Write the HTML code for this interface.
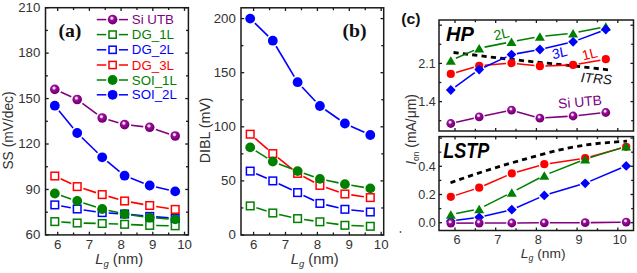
<!DOCTYPE html>
<html><head><meta charset="utf-8"><style>html,body{margin:0;padding:0;background:#fff;overflow:hidden}svg{display:block}</style></head>
<body><svg width="637" height="273" viewBox="0 0 637 273" font-family="Liberation Sans, sans-serif">
<defs><radialGradient id="sph" cx="0.42" cy="0.36" r="0.62">
<stop offset="0" stop-color="#ffffff"/><stop offset="0.16" stop-color="#f0d0f0"/><stop offset="0.36" stop-color="#9a109a"/><stop offset="0.75" stop-color="#800080"/><stop offset="1" stop-color="#700070"/></radialGradient></defs>
<rect width="637" height="273" fill="#fff"/>
<rect x="45.5" y="7.7" width="142.9" height="227.20000000000002" fill="none" stroke="#1a1a1a" stroke-width="1.5"/>
<line x1="57.7" y1="234.9" x2="57.7" y2="231.70000000000002" stroke="#1a1a1a" stroke-width="1.3" />
<line x1="57.7" y1="7.7" x2="57.7" y2="10.9" stroke="#1a1a1a" stroke-width="1.3" />
<line x1="73.55" y1="234.9" x2="73.55" y2="232.5" stroke="#1a1a1a" stroke-width="1.3" />
<line x1="73.55" y1="7.7" x2="73.55" y2="10.1" stroke="#1a1a1a" stroke-width="1.3" />
<line x1="89.4" y1="234.9" x2="89.4" y2="231.70000000000002" stroke="#1a1a1a" stroke-width="1.3" />
<line x1="89.4" y1="7.7" x2="89.4" y2="10.9" stroke="#1a1a1a" stroke-width="1.3" />
<line x1="105.25" y1="234.9" x2="105.25" y2="232.5" stroke="#1a1a1a" stroke-width="1.3" />
<line x1="105.25" y1="7.7" x2="105.25" y2="10.1" stroke="#1a1a1a" stroke-width="1.3" />
<line x1="121.1" y1="234.9" x2="121.1" y2="231.70000000000002" stroke="#1a1a1a" stroke-width="1.3" />
<line x1="121.1" y1="7.7" x2="121.1" y2="10.9" stroke="#1a1a1a" stroke-width="1.3" />
<line x1="136.95" y1="234.9" x2="136.95" y2="232.5" stroke="#1a1a1a" stroke-width="1.3" />
<line x1="136.95" y1="7.7" x2="136.95" y2="10.1" stroke="#1a1a1a" stroke-width="1.3" />
<line x1="152.8" y1="234.9" x2="152.8" y2="231.70000000000002" stroke="#1a1a1a" stroke-width="1.3" />
<line x1="152.8" y1="7.7" x2="152.8" y2="10.9" stroke="#1a1a1a" stroke-width="1.3" />
<line x1="168.65" y1="234.9" x2="168.65" y2="232.5" stroke="#1a1a1a" stroke-width="1.3" />
<line x1="168.65" y1="7.7" x2="168.65" y2="10.1" stroke="#1a1a1a" stroke-width="1.3" />
<line x1="184.5" y1="234.9" x2="184.5" y2="231.70000000000002" stroke="#1a1a1a" stroke-width="1.3" />
<line x1="184.5" y1="7.7" x2="184.5" y2="10.9" stroke="#1a1a1a" stroke-width="1.3" />
<line x1="45.5" y1="7.7" x2="48.7" y2="7.7" stroke="#1a1a1a" stroke-width="1.3" />
<line x1="188.4" y1="7.7" x2="185.20000000000002" y2="7.7" stroke="#1a1a1a" stroke-width="1.3" />
<line x1="45.5" y1="30.419999999999998" x2="47.9" y2="30.419999999999998" stroke="#1a1a1a" stroke-width="1.3" />
<line x1="188.4" y1="30.419999999999998" x2="186.0" y2="30.419999999999998" stroke="#1a1a1a" stroke-width="1.3" />
<line x1="45.5" y1="53.14" x2="48.7" y2="53.14" stroke="#1a1a1a" stroke-width="1.3" />
<line x1="188.4" y1="53.14" x2="185.20000000000002" y2="53.14" stroke="#1a1a1a" stroke-width="1.3" />
<line x1="45.5" y1="75.86" x2="47.9" y2="75.86" stroke="#1a1a1a" stroke-width="1.3" />
<line x1="188.4" y1="75.86" x2="186.0" y2="75.86" stroke="#1a1a1a" stroke-width="1.3" />
<line x1="45.5" y1="98.58" x2="48.7" y2="98.58" stroke="#1a1a1a" stroke-width="1.3" />
<line x1="188.4" y1="98.58" x2="185.20000000000002" y2="98.58" stroke="#1a1a1a" stroke-width="1.3" />
<line x1="45.5" y1="121.3" x2="47.9" y2="121.3" stroke="#1a1a1a" stroke-width="1.3" />
<line x1="188.4" y1="121.3" x2="186.0" y2="121.3" stroke="#1a1a1a" stroke-width="1.3" />
<line x1="45.5" y1="144.01999999999998" x2="48.7" y2="144.01999999999998" stroke="#1a1a1a" stroke-width="1.3" />
<line x1="188.4" y1="144.01999999999998" x2="185.20000000000002" y2="144.01999999999998" stroke="#1a1a1a" stroke-width="1.3" />
<line x1="45.5" y1="166.73999999999998" x2="47.9" y2="166.73999999999998" stroke="#1a1a1a" stroke-width="1.3" />
<line x1="188.4" y1="166.73999999999998" x2="186.0" y2="166.73999999999998" stroke="#1a1a1a" stroke-width="1.3" />
<line x1="45.5" y1="189.45999999999998" x2="48.7" y2="189.45999999999998" stroke="#1a1a1a" stroke-width="1.3" />
<line x1="188.4" y1="189.45999999999998" x2="185.20000000000002" y2="189.45999999999998" stroke="#1a1a1a" stroke-width="1.3" />
<line x1="45.5" y1="212.17999999999998" x2="47.9" y2="212.17999999999998" stroke="#1a1a1a" stroke-width="1.3" />
<line x1="188.4" y1="212.17999999999998" x2="186.0" y2="212.17999999999998" stroke="#1a1a1a" stroke-width="1.3" />
<line x1="45.5" y1="234.89999999999998" x2="48.7" y2="234.89999999999998" stroke="#1a1a1a" stroke-width="1.3" />
<line x1="188.4" y1="234.89999999999998" x2="185.20000000000002" y2="234.89999999999998" stroke="#1a1a1a" stroke-width="1.3" />
<text transform="translate(40.3,11.9) scale(1.06,1)" font-size="12.5" fill="#333333" text-anchor="end" >210</text>
<text transform="translate(40.3,57.34) scale(1.06,1)" font-size="12.5" fill="#333333" text-anchor="end" >180</text>
<text transform="translate(40.3,102.78) scale(1.06,1)" font-size="12.5" fill="#333333" text-anchor="end" >150</text>
<text transform="translate(40.3,148.21999999999997) scale(1.06,1)" font-size="12.5" fill="#333333" text-anchor="end" >120</text>
<text transform="translate(40.3,193.65999999999997) scale(1.06,1)" font-size="12.5" fill="#333333" text-anchor="end" >90</text>
<text transform="translate(40.3,239.09999999999997) scale(1.06,1)" font-size="12.5" fill="#333333" text-anchor="end" >60</text>
<text transform="translate(57.7,249) scale(1.06,1)" font-size="12.5" fill="#333333" text-anchor="middle" >6</text>
<text transform="translate(89.4,249) scale(1.06,1)" font-size="12.5" fill="#333333" text-anchor="middle" >7</text>
<text transform="translate(121.1,249) scale(1.06,1)" font-size="12.5" fill="#333333" text-anchor="middle" >8</text>
<text transform="translate(152.8,249) scale(1.06,1)" font-size="12.5" fill="#333333" text-anchor="middle" >9</text>
<text transform="translate(184.5,249) scale(1.06,1)" font-size="12.5" fill="#333333" text-anchor="middle" >10</text>
<text transform="translate(119.2,263.6) scale(1.05,1)" font-size="14" fill="#333333" text-anchor="middle"><tspan font-style="italic">L</tspan><tspan font-style="italic" font-size="9" dy="3">g</tspan><tspan dy="-3"> (nm)</tspan></text>
<text transform="translate(13.4,130.5) rotate(-90) scale(1,1.06)" font-size="13.8" fill="#333333" text-anchor="middle">SS (mV/dec)</text>
<text transform="translate(58.4,37.3) scale(1.04,1)" font-size="19" fill="#111" font-family="Liberation Serif, serif" font-weight="bold">(a)</text>
<line x1="61.29" y1="222.01" x2="70.71" y2="222.59" stroke="#008000" stroke-width="1.6"/>
<line x1="83.70" y1="223.13" x2="95.70" y2="223.37" stroke="#008000" stroke-width="1.6"/>
<line x1="108.70" y1="223.73" x2="118.10" y2="224.07" stroke="#008000" stroke-width="1.6"/>
<line x1="131.09" y1="224.58" x2="143.21" y2="225.12" stroke="#008000" stroke-width="1.6"/>
<line x1="156.20" y1="225.50" x2="168.70" y2="225.70" stroke="#008000" stroke-width="1.6"/>
<rect x="51.0" y="217.79999999999998" width="7.6" height="7.6" fill="#fff" stroke="#008000" stroke-width="1.5"/>
<rect x="73.4" y="219.2" width="7.6" height="7.6" fill="#fff" stroke="#008000" stroke-width="1.5"/>
<rect x="98.4" y="219.7" width="7.6" height="7.6" fill="#fff" stroke="#008000" stroke-width="1.5"/>
<rect x="120.8" y="220.5" width="7.6" height="7.6" fill="#fff" stroke="#008000" stroke-width="1.5"/>
<rect x="145.89999999999998" y="221.6" width="7.6" height="7.6" fill="#fff" stroke="#008000" stroke-width="1.5"/>
<rect x="171.39999999999998" y="222.0" width="7.6" height="7.6" fill="#fff" stroke="#008000" stroke-width="1.5"/>
<line x1="61.19" y1="206.07" x2="70.81" y2="207.83" stroke="#0000ff" stroke-width="1.6"/>
<line x1="83.63" y1="209.93" x2="95.77" y2="211.67" stroke="#0000ff" stroke-width="1.6"/>
<line x1="108.69" y1="213.01" x2="118.11" y2="213.59" stroke="#0000ff" stroke-width="1.6"/>
<line x1="131.07" y1="214.62" x2="143.23" y2="215.78" stroke="#0000ff" stroke-width="1.6"/>
<line x1="156.18" y1="216.88" x2="168.72" y2="217.82" stroke="#0000ff" stroke-width="1.6"/>
<rect x="51.0" y="201.1" width="7.6" height="7.6" fill="#fff" stroke="#0000ff" stroke-width="1.5"/>
<rect x="73.4" y="205.2" width="7.6" height="7.6" fill="#fff" stroke="#0000ff" stroke-width="1.5"/>
<rect x="98.4" y="208.79999999999998" width="7.6" height="7.6" fill="#fff" stroke="#0000ff" stroke-width="1.5"/>
<rect x="120.8" y="210.2" width="7.6" height="7.6" fill="#fff" stroke="#0000ff" stroke-width="1.5"/>
<rect x="145.89999999999998" y="212.6" width="7.6" height="7.6" fill="#fff" stroke="#0000ff" stroke-width="1.5"/>
<rect x="171.39999999999998" y="214.5" width="7.6" height="7.6" fill="#fff" stroke="#0000ff" stroke-width="1.5"/>
<line x1="60.68" y1="178.78" x2="71.32" y2="183.82" stroke="#ff0000" stroke-width="1.6"/>
<line x1="83.39" y1="188.58" x2="96.01" y2="192.62" stroke="#ff0000" stroke-width="1.6"/>
<line x1="108.45" y1="196.39" x2="118.35" y2="199.21" stroke="#ff0000" stroke-width="1.6"/>
<line x1="131.00" y1="202.15" x2="143.30" y2="204.35" stroke="#ff0000" stroke-width="1.6"/>
<line x1="156.13" y1="206.48" x2="168.77" y2="208.42" stroke="#ff0000" stroke-width="1.6"/>
<rect x="51.0" y="172.2" width="7.6" height="7.6" fill="#fff" stroke="#ff0000" stroke-width="1.5"/>
<rect x="73.4" y="182.79999999999998" width="7.6" height="7.6" fill="#fff" stroke="#ff0000" stroke-width="1.5"/>
<rect x="98.4" y="190.79999999999998" width="7.6" height="7.6" fill="#fff" stroke="#ff0000" stroke-width="1.5"/>
<rect x="120.8" y="197.2" width="7.6" height="7.6" fill="#fff" stroke="#ff0000" stroke-width="1.5"/>
<rect x="145.89999999999998" y="201.7" width="7.6" height="7.6" fill="#fff" stroke="#ff0000" stroke-width="1.5"/>
<rect x="171.39999999999998" y="205.6" width="7.6" height="7.6" fill="#fff" stroke="#ff0000" stroke-width="1.5"/>
<line x1="60.96" y1="195.56" x2="71.04" y2="198.94" stroke="#008000" stroke-width="1.6"/>
<line x1="83.39" y1="202.98" x2="96.01" y2="207.02" stroke="#008000" stroke-width="1.6"/>
<line x1="108.54" y1="210.42" x2="118.26" y2="212.58" stroke="#008000" stroke-width="1.6"/>
<line x1="131.03" y1="214.92" x2="143.27" y2="216.68" stroke="#008000" stroke-width="1.6"/>
<line x1="156.18" y1="218.06" x2="168.72" y2="218.94" stroke="#008000" stroke-width="1.6"/>
<circle cx="54.8" cy="193.5" r="4.9" fill="#008000"/>
<circle cx="77.2" cy="201" r="4.9" fill="#008000"/>
<circle cx="102.2" cy="209" r="4.9" fill="#008000"/>
<circle cx="124.6" cy="214" r="4.9" fill="#008000"/>
<circle cx="149.7" cy="217.6" r="4.9" fill="#008000"/>
<circle cx="175.2" cy="219.4" r="4.9" fill="#008000"/>
<line x1="58.92" y1="110.72" x2="73.08" y2="127.98" stroke="#0000ff" stroke-width="1.6"/>
<line x1="81.86" y1="137.53" x2="97.54" y2="152.77" stroke="#0000ff" stroke-width="1.6"/>
<line x1="107.22" y1="161.43" x2="119.58" y2="171.57" stroke="#0000ff" stroke-width="1.6"/>
<line x1="130.65" y1="178.06" x2="143.65" y2="183.14" stroke="#0000ff" stroke-width="1.6"/>
<line x1="156.03" y1="186.97" x2="168.87" y2="189.93" stroke="#0000ff" stroke-width="1.6"/>
<circle cx="54.8" cy="105.7" r="4.9" fill="#0000ff"/>
<circle cx="77.2" cy="133" r="4.9" fill="#0000ff"/>
<circle cx="102.2" cy="157.3" r="4.9" fill="#0000ff"/>
<circle cx="124.6" cy="175.7" r="4.9" fill="#0000ff"/>
<circle cx="149.7" cy="185.5" r="4.9" fill="#0000ff"/>
<circle cx="175.2" cy="191.4" r="4.9" fill="#0000ff"/>
<line x1="60.73" y1="92.07" x2="71.27" y2="96.83" stroke="#800080" stroke-width="1.6"/>
<line x1="82.42" y1="103.37" x2="96.98" y2="114.13" stroke="#800080" stroke-width="1.6"/>
<line x1="108.43" y1="119.84" x2="118.37" y2="122.76" stroke="#800080" stroke-width="1.6"/>
<line x1="131.06" y1="125.30" x2="143.24" y2="126.60" stroke="#800080" stroke-width="1.6"/>
<line x1="155.85" y1="129.40" x2="169.05" y2="133.90" stroke="#800080" stroke-width="1.6"/>
<circle cx="54.8" cy="89.4" r="4.8" fill="url(#sph)"/>
<circle cx="77.2" cy="99.5" r="4.8" fill="url(#sph)"/>
<circle cx="102.2" cy="118" r="4.8" fill="url(#sph)"/>
<circle cx="124.6" cy="124.6" r="4.8" fill="url(#sph)"/>
<circle cx="149.7" cy="127.3" r="4.8" fill="url(#sph)"/>
<circle cx="175.2" cy="136" r="4.8" fill="url(#sph)"/>
<line x1="96.8" y1="19.6" x2="106.3" y2="19.6" stroke="#800080" stroke-width="1.5" />
<line x1="118.9" y1="19.6" x2="128" y2="19.6" stroke="#800080" stroke-width="1.5" />
<circle cx="112.6" cy="19.6" r="4.8" fill="url(#sph)"/>
<text transform="translate(131.8,24.1) scale(1.065,1)" font-size="12.5" fill="#800080" text-anchor="start" >Si UTB</text>
<line x1="96.8" y1="34.6" x2="106.3" y2="34.6" stroke="#008000" stroke-width="1.5" />
<line x1="118.9" y1="34.6" x2="128" y2="34.6" stroke="#008000" stroke-width="1.5" />
<rect x="109.0" y="31.0" width="7.2" height="7.2" fill="#fff" stroke="#008000" stroke-width="1.5"/>
<text transform="translate(131.8,39.1) scale(1.065,1)" font-size="12.5" fill="#008000" text-anchor="start" >DG_1L</text>
<line x1="96.8" y1="49.8" x2="106.3" y2="49.8" stroke="#0000ff" stroke-width="1.5" />
<line x1="118.9" y1="49.8" x2="128" y2="49.8" stroke="#0000ff" stroke-width="1.5" />
<rect x="109.0" y="46.199999999999996" width="7.2" height="7.2" fill="#fff" stroke="#0000ff" stroke-width="1.5"/>
<text transform="translate(131.8,54.3) scale(1.065,1)" font-size="12.5" fill="#0000ff" text-anchor="start" >DG_2L</text>
<line x1="96.8" y1="65" x2="106.3" y2="65" stroke="#ff0000" stroke-width="1.5" />
<line x1="118.9" y1="65" x2="128" y2="65" stroke="#ff0000" stroke-width="1.5" />
<rect x="109.0" y="61.4" width="7.2" height="7.2" fill="#fff" stroke="#ff0000" stroke-width="1.5"/>
<text transform="translate(131.8,69.5) scale(1.065,1)" font-size="12.5" fill="#ff0000" text-anchor="start" >DG_3L</text>
<line x1="96.8" y1="80" x2="106.3" y2="80" stroke="#008000" stroke-width="1.5" />
<line x1="118.9" y1="80" x2="128" y2="80" stroke="#008000" stroke-width="1.5" />
<circle cx="112.6" cy="80" r="4.9" fill="#008000"/>
<text transform="translate(131.8,84.5) scale(1.065,1)" font-size="12.5" fill="#008000" text-anchor="start" >SOI_1L</text>
<line x1="96.8" y1="94.8" x2="106.3" y2="94.8" stroke="#0000ff" stroke-width="1.5" />
<line x1="118.9" y1="94.8" x2="128" y2="94.8" stroke="#0000ff" stroke-width="1.5" />
<circle cx="112.6" cy="94.8" r="4.9" fill="#0000ff"/>
<text transform="translate(131.8,99.3) scale(1.065,1)" font-size="12.5" fill="#0000ff" text-anchor="start" >SOI_2L</text>
<rect x="241" y="7.8" width="142.7" height="227.2" fill="none" stroke="#1a1a1a" stroke-width="1.5"/>
<line x1="253.6" y1="235" x2="253.6" y2="231.8" stroke="#1a1a1a" stroke-width="1.3" />
<line x1="253.6" y1="7.8" x2="253.6" y2="11.0" stroke="#1a1a1a" stroke-width="1.3" />
<line x1="269.55" y1="235" x2="269.55" y2="232.6" stroke="#1a1a1a" stroke-width="1.3" />
<line x1="269.55" y1="7.8" x2="269.55" y2="10.2" stroke="#1a1a1a" stroke-width="1.3" />
<line x1="285.5" y1="235" x2="285.5" y2="231.8" stroke="#1a1a1a" stroke-width="1.3" />
<line x1="285.5" y1="7.8" x2="285.5" y2="11.0" stroke="#1a1a1a" stroke-width="1.3" />
<line x1="301.45" y1="235" x2="301.45" y2="232.6" stroke="#1a1a1a" stroke-width="1.3" />
<line x1="301.45" y1="7.8" x2="301.45" y2="10.2" stroke="#1a1a1a" stroke-width="1.3" />
<line x1="317.4" y1="235" x2="317.4" y2="231.8" stroke="#1a1a1a" stroke-width="1.3" />
<line x1="317.4" y1="7.8" x2="317.4" y2="11.0" stroke="#1a1a1a" stroke-width="1.3" />
<line x1="333.35" y1="235" x2="333.35" y2="232.6" stroke="#1a1a1a" stroke-width="1.3" />
<line x1="333.35" y1="7.8" x2="333.35" y2="10.2" stroke="#1a1a1a" stroke-width="1.3" />
<line x1="349.29999999999995" y1="235" x2="349.29999999999995" y2="231.8" stroke="#1a1a1a" stroke-width="1.3" />
<line x1="349.29999999999995" y1="7.8" x2="349.29999999999995" y2="11.0" stroke="#1a1a1a" stroke-width="1.3" />
<line x1="365.25" y1="235" x2="365.25" y2="232.6" stroke="#1a1a1a" stroke-width="1.3" />
<line x1="365.25" y1="7.8" x2="365.25" y2="10.2" stroke="#1a1a1a" stroke-width="1.3" />
<line x1="381.2" y1="235" x2="381.2" y2="231.8" stroke="#1a1a1a" stroke-width="1.3" />
<line x1="381.2" y1="7.8" x2="381.2" y2="11.0" stroke="#1a1a1a" stroke-width="1.3" />
<line x1="241" y1="18.6" x2="244.2" y2="18.6" stroke="#1a1a1a" stroke-width="1.3" />
<line x1="383.7" y1="18.6" x2="380.5" y2="18.6" stroke="#1a1a1a" stroke-width="1.3" />
<line x1="241" y1="45.650000000000006" x2="243.4" y2="45.650000000000006" stroke="#1a1a1a" stroke-width="1.3" />
<line x1="383.7" y1="45.650000000000006" x2="381.3" y2="45.650000000000006" stroke="#1a1a1a" stroke-width="1.3" />
<line x1="241" y1="72.7" x2="244.2" y2="72.7" stroke="#1a1a1a" stroke-width="1.3" />
<line x1="383.7" y1="72.7" x2="380.5" y2="72.7" stroke="#1a1a1a" stroke-width="1.3" />
<line x1="241" y1="99.75" x2="243.4" y2="99.75" stroke="#1a1a1a" stroke-width="1.3" />
<line x1="383.7" y1="99.75" x2="381.3" y2="99.75" stroke="#1a1a1a" stroke-width="1.3" />
<line x1="241" y1="126.80000000000001" x2="244.2" y2="126.80000000000001" stroke="#1a1a1a" stroke-width="1.3" />
<line x1="383.7" y1="126.80000000000001" x2="380.5" y2="126.80000000000001" stroke="#1a1a1a" stroke-width="1.3" />
<line x1="241" y1="153.85" x2="243.4" y2="153.85" stroke="#1a1a1a" stroke-width="1.3" />
<line x1="383.7" y1="153.85" x2="381.3" y2="153.85" stroke="#1a1a1a" stroke-width="1.3" />
<line x1="241" y1="180.9" x2="244.2" y2="180.9" stroke="#1a1a1a" stroke-width="1.3" />
<line x1="383.7" y1="180.9" x2="380.5" y2="180.9" stroke="#1a1a1a" stroke-width="1.3" />
<line x1="241" y1="207.95" x2="243.4" y2="207.95" stroke="#1a1a1a" stroke-width="1.3" />
<line x1="383.7" y1="207.95" x2="381.3" y2="207.95" stroke="#1a1a1a" stroke-width="1.3" />
<line x1="241" y1="235.0" x2="244.2" y2="235.0" stroke="#1a1a1a" stroke-width="1.3" />
<line x1="383.7" y1="235.0" x2="380.5" y2="235.0" stroke="#1a1a1a" stroke-width="1.3" />
<text transform="translate(235.8,22.8) scale(1.06,1)" font-size="12.5" fill="#333333" text-anchor="end" >200</text>
<text transform="translate(235.8,76.9) scale(1.06,1)" font-size="12.5" fill="#333333" text-anchor="end" >150</text>
<text transform="translate(235.8,131.0) scale(1.06,1)" font-size="12.5" fill="#333333" text-anchor="end" >100</text>
<text transform="translate(235.8,185.1) scale(1.06,1)" font-size="12.5" fill="#333333" text-anchor="end" >50</text>
<text transform="translate(235.8,239.2) scale(1.06,1)" font-size="12.5" fill="#333333" text-anchor="end" >0</text>
<text transform="translate(253.6,249) scale(1.06,1)" font-size="12.5" fill="#333333" text-anchor="middle" >6</text>
<text transform="translate(285.5,249) scale(1.06,1)" font-size="12.5" fill="#333333" text-anchor="middle" >7</text>
<text transform="translate(317.4,249) scale(1.06,1)" font-size="12.5" fill="#333333" text-anchor="middle" >8</text>
<text transform="translate(349.29999999999995,249) scale(1.06,1)" font-size="12.5" fill="#333333" text-anchor="middle" >9</text>
<text transform="translate(381.2,249) scale(1.06,1)" font-size="12.5" fill="#333333" text-anchor="middle" >10</text>
<text transform="translate(314.7,263.6) scale(1.05,1)" font-size="14" fill="#333333" text-anchor="middle"><tspan font-style="italic">L</tspan><tspan font-style="italic" font-size="9" dy="3">g</tspan><tspan dy="-3"> (nm)</tspan></text>
<text transform="translate(210.2,130.4) rotate(-90) scale(1,1.08)" font-size="14.2" fill="#333333" text-anchor="middle">DIBL (mV)</text>
<text transform="translate(342.4,37.3) scale(1.04,1)" font-size="19" fill="#111" font-family="Liberation Serif, serif" font-weight="bold">(b)</text>
<line x1="256.40" y1="207.85" x2="266.60" y2="211.05" stroke="#008000" stroke-width="1.6"/>
<line x1="279.14" y1="214.43" x2="291.26" y2="217.17" stroke="#008000" stroke-width="1.6"/>
<line x1="304.03" y1="219.52" x2="313.47" y2="220.88" stroke="#008000" stroke-width="1.6"/>
<line x1="326.34" y1="222.70" x2="338.46" y2="224.40" stroke="#008000" stroke-width="1.6"/>
<line x1="351.39" y1="225.56" x2="363.81" y2="226.04" stroke="#008000" stroke-width="1.6"/>
<rect x="246.39999999999998" y="202.1" width="7.6" height="7.6" fill="#fff" stroke="#008000" stroke-width="1.5"/>
<rect x="269.0" y="209.2" width="7.6" height="7.6" fill="#fff" stroke="#008000" stroke-width="1.5"/>
<rect x="293.8" y="214.79999999999998" width="7.6" height="7.6" fill="#fff" stroke="#008000" stroke-width="1.5"/>
<rect x="316.09999999999997" y="218.0" width="7.6" height="7.6" fill="#fff" stroke="#008000" stroke-width="1.5"/>
<rect x="341.09999999999997" y="221.5" width="7.6" height="7.6" fill="#fff" stroke="#008000" stroke-width="1.5"/>
<rect x="366.5" y="222.5" width="7.6" height="7.6" fill="#fff" stroke="#008000" stroke-width="1.5"/>
<line x1="256.16" y1="173.69" x2="266.84" y2="178.31" stroke="#0000ff" stroke-width="1.6"/>
<line x1="278.68" y1="183.67" x2="291.72" y2="189.83" stroke="#0000ff" stroke-width="1.6"/>
<line x1="303.45" y1="195.43" x2="314.05" y2="200.57" stroke="#0000ff" stroke-width="1.6"/>
<line x1="326.23" y1="204.89" x2="338.57" y2="207.81" stroke="#0000ff" stroke-width="1.6"/>
<line x1="351.36" y1="209.99" x2="363.84" y2="211.31" stroke="#0000ff" stroke-width="1.6"/>
<rect x="246.39999999999998" y="167.29999999999998" width="7.6" height="7.6" fill="#fff" stroke="#0000ff" stroke-width="1.5"/>
<rect x="269.0" y="177.1" width="7.6" height="7.6" fill="#fff" stroke="#0000ff" stroke-width="1.5"/>
<rect x="293.8" y="188.79999999999998" width="7.6" height="7.6" fill="#fff" stroke="#0000ff" stroke-width="1.5"/>
<rect x="316.09999999999997" y="199.6" width="7.6" height="7.6" fill="#fff" stroke="#0000ff" stroke-width="1.5"/>
<rect x="341.09999999999997" y="205.5" width="7.6" height="7.6" fill="#fff" stroke="#0000ff" stroke-width="1.5"/>
<rect x="366.5" y="208.2" width="7.6" height="7.6" fill="#fff" stroke="#0000ff" stroke-width="1.5"/>
<line x1="255.13" y1="138.43" x2="267.87" y2="149.37" stroke="#ff0000" stroke-width="1.6"/>
<line x1="277.88" y1="157.66" x2="292.52" y2="169.34" stroke="#ff0000" stroke-width="1.6"/>
<line x1="303.32" y1="176.48" x2="314.18" y2="182.32" stroke="#ff0000" stroke-width="1.6"/>
<line x1="326.05" y1="187.51" x2="338.75" y2="191.89" stroke="#ff0000" stroke-width="1.6"/>
<line x1="351.34" y1="194.91" x2="363.86" y2="196.69" stroke="#ff0000" stroke-width="1.6"/>
<rect x="246.39999999999998" y="130.39999999999998" width="7.6" height="7.6" fill="#fff" stroke="#ff0000" stroke-width="1.5"/>
<rect x="269.0" y="149.79999999999998" width="7.6" height="7.6" fill="#fff" stroke="#ff0000" stroke-width="1.5"/>
<rect x="293.8" y="169.6" width="7.6" height="7.6" fill="#fff" stroke="#ff0000" stroke-width="1.5"/>
<rect x="316.09999999999997" y="181.6" width="7.6" height="7.6" fill="#fff" stroke="#ff0000" stroke-width="1.5"/>
<rect x="341.09999999999997" y="190.2" width="7.6" height="7.6" fill="#fff" stroke="#ff0000" stroke-width="1.5"/>
<rect x="366.5" y="193.79999999999998" width="7.6" height="7.6" fill="#fff" stroke="#ff0000" stroke-width="1.5"/>
<line x1="255.70" y1="150.86" x2="267.30" y2="158.14" stroke="#008000" stroke-width="1.6"/>
<line x1="278.87" y1="163.93" x2="291.53" y2="168.77" stroke="#008000" stroke-width="1.6"/>
<line x1="303.74" y1="173.25" x2="313.76" y2="176.75" stroke="#008000" stroke-width="1.6"/>
<line x1="326.26" y1="180.25" x2="338.54" y2="182.85" stroke="#008000" stroke-width="1.6"/>
<line x1="351.31" y1="185.26" x2="363.89" y2="187.34" stroke="#008000" stroke-width="1.6"/>
<circle cx="250.2" cy="147.4" r="4.9" fill="#008000"/>
<circle cx="272.8" cy="161.6" r="4.9" fill="#008000"/>
<circle cx="297.6" cy="171.1" r="4.9" fill="#008000"/>
<circle cx="319.9" cy="178.9" r="4.9" fill="#008000"/>
<circle cx="344.9" cy="184.2" r="4.9" fill="#008000"/>
<circle cx="370.3" cy="188.4" r="4.9" fill="#008000"/>
<line x1="254.85" y1="23.14" x2="268.15" y2="36.16" stroke="#0000ff" stroke-width="1.6"/>
<line x1="276.13" y1="46.28" x2="294.27" y2="76.62" stroke="#0000ff" stroke-width="1.6"/>
<line x1="302.04" y1="86.94" x2="315.46" y2="101.26" stroke="#0000ff" stroke-width="1.6"/>
<line x1="325.23" y1="109.73" x2="339.57" y2="119.77" stroke="#0000ff" stroke-width="1.6"/>
<line x1="350.82" y1="126.18" x2="364.38" y2="132.32" stroke="#0000ff" stroke-width="1.6"/>
<circle cx="250.2" cy="18.6" r="4.9" fill="#0000ff"/>
<circle cx="272.8" cy="40.7" r="4.9" fill="#0000ff"/>
<circle cx="297.6" cy="82.2" r="4.9" fill="#0000ff"/>
<circle cx="319.9" cy="106" r="4.9" fill="#0000ff"/>
<circle cx="344.9" cy="123.5" r="4.9" fill="#0000ff"/>
<circle cx="370.3" cy="135" r="4.9" fill="#0000ff"/>
<circle cx="400.5" cy="232" r="0.9" fill="#555"/>
<rect x="439" y="20" width="194.5" height="111" fill="none" stroke="#1a1a1a" stroke-width="1.5"/>
<rect x="439" y="136.6" width="194.5" height="93.9" fill="none" stroke="#1a1a1a" stroke-width="1.5"/>
<line x1="455.0" y1="20" x2="455.0" y2="23.0" stroke="#1a1a1a" stroke-width="1.3" />
<line x1="455.0" y1="131" x2="455.0" y2="128.0" stroke="#1a1a1a" stroke-width="1.3" />
<line x1="455.0" y1="136.6" x2="455.0" y2="139.6" stroke="#1a1a1a" stroke-width="1.3" />
<line x1="455.0" y1="230.5" x2="455.0" y2="227.5" stroke="#1a1a1a" stroke-width="1.3" />
<line x1="475.35" y1="20" x2="475.35" y2="22.3" stroke="#1a1a1a" stroke-width="1.3" />
<line x1="475.35" y1="131" x2="475.35" y2="128.7" stroke="#1a1a1a" stroke-width="1.3" />
<line x1="475.35" y1="136.6" x2="475.35" y2="138.9" stroke="#1a1a1a" stroke-width="1.3" />
<line x1="475.35" y1="230.5" x2="475.35" y2="228.2" stroke="#1a1a1a" stroke-width="1.3" />
<line x1="495.7" y1="20" x2="495.7" y2="23.0" stroke="#1a1a1a" stroke-width="1.3" />
<line x1="495.7" y1="131" x2="495.7" y2="128.0" stroke="#1a1a1a" stroke-width="1.3" />
<line x1="495.7" y1="136.6" x2="495.7" y2="139.6" stroke="#1a1a1a" stroke-width="1.3" />
<line x1="495.7" y1="230.5" x2="495.7" y2="227.5" stroke="#1a1a1a" stroke-width="1.3" />
<line x1="516.05" y1="20" x2="516.05" y2="22.3" stroke="#1a1a1a" stroke-width="1.3" />
<line x1="516.05" y1="131" x2="516.05" y2="128.7" stroke="#1a1a1a" stroke-width="1.3" />
<line x1="516.05" y1="136.6" x2="516.05" y2="138.9" stroke="#1a1a1a" stroke-width="1.3" />
<line x1="516.05" y1="230.5" x2="516.05" y2="228.2" stroke="#1a1a1a" stroke-width="1.3" />
<line x1="536.4" y1="20" x2="536.4" y2="23.0" stroke="#1a1a1a" stroke-width="1.3" />
<line x1="536.4" y1="131" x2="536.4" y2="128.0" stroke="#1a1a1a" stroke-width="1.3" />
<line x1="536.4" y1="136.6" x2="536.4" y2="139.6" stroke="#1a1a1a" stroke-width="1.3" />
<line x1="536.4" y1="230.5" x2="536.4" y2="227.5" stroke="#1a1a1a" stroke-width="1.3" />
<line x1="556.75" y1="20" x2="556.75" y2="22.3" stroke="#1a1a1a" stroke-width="1.3" />
<line x1="556.75" y1="131" x2="556.75" y2="128.7" stroke="#1a1a1a" stroke-width="1.3" />
<line x1="556.75" y1="136.6" x2="556.75" y2="138.9" stroke="#1a1a1a" stroke-width="1.3" />
<line x1="556.75" y1="230.5" x2="556.75" y2="228.2" stroke="#1a1a1a" stroke-width="1.3" />
<line x1="577.1" y1="20" x2="577.1" y2="23.0" stroke="#1a1a1a" stroke-width="1.3" />
<line x1="577.1" y1="131" x2="577.1" y2="128.0" stroke="#1a1a1a" stroke-width="1.3" />
<line x1="577.1" y1="136.6" x2="577.1" y2="139.6" stroke="#1a1a1a" stroke-width="1.3" />
<line x1="577.1" y1="230.5" x2="577.1" y2="227.5" stroke="#1a1a1a" stroke-width="1.3" />
<line x1="597.45" y1="20" x2="597.45" y2="22.3" stroke="#1a1a1a" stroke-width="1.3" />
<line x1="597.45" y1="131" x2="597.45" y2="128.7" stroke="#1a1a1a" stroke-width="1.3" />
<line x1="597.45" y1="136.6" x2="597.45" y2="138.9" stroke="#1a1a1a" stroke-width="1.3" />
<line x1="597.45" y1="230.5" x2="597.45" y2="228.2" stroke="#1a1a1a" stroke-width="1.3" />
<line x1="617.8" y1="20" x2="617.8" y2="23.0" stroke="#1a1a1a" stroke-width="1.3" />
<line x1="617.8" y1="131" x2="617.8" y2="128.0" stroke="#1a1a1a" stroke-width="1.3" />
<line x1="617.8" y1="136.6" x2="617.8" y2="139.6" stroke="#1a1a1a" stroke-width="1.3" />
<line x1="617.8" y1="230.5" x2="617.8" y2="227.5" stroke="#1a1a1a" stroke-width="1.3" />
<line x1="439" y1="25.2" x2="442.0" y2="25.2" stroke="#1a1a1a" stroke-width="1.3" />
<line x1="633.5" y1="25.2" x2="630.5" y2="25.2" stroke="#1a1a1a" stroke-width="1.3" />
<line x1="439" y1="44.3" x2="441.3" y2="44.3" stroke="#1a1a1a" stroke-width="1.3" />
<line x1="633.5" y1="44.3" x2="631.2" y2="44.3" stroke="#1a1a1a" stroke-width="1.3" />
<line x1="439" y1="63.400000000000006" x2="442.0" y2="63.400000000000006" stroke="#1a1a1a" stroke-width="1.3" />
<line x1="633.5" y1="63.400000000000006" x2="630.5" y2="63.400000000000006" stroke="#1a1a1a" stroke-width="1.3" />
<line x1="439" y1="82.5" x2="441.3" y2="82.5" stroke="#1a1a1a" stroke-width="1.3" />
<line x1="633.5" y1="82.5" x2="631.2" y2="82.5" stroke="#1a1a1a" stroke-width="1.3" />
<line x1="439" y1="101.60000000000001" x2="442.0" y2="101.60000000000001" stroke="#1a1a1a" stroke-width="1.3" />
<line x1="633.5" y1="101.60000000000001" x2="630.5" y2="101.60000000000001" stroke="#1a1a1a" stroke-width="1.3" />
<line x1="439" y1="120.7" x2="441.3" y2="120.7" stroke="#1a1a1a" stroke-width="1.3" />
<line x1="633.5" y1="120.7" x2="631.2" y2="120.7" stroke="#1a1a1a" stroke-width="1.3" />
<line x1="439" y1="222.7" x2="442.0" y2="222.7" stroke="#1a1a1a" stroke-width="1.3" />
<line x1="633.5" y1="222.7" x2="630.5" y2="222.7" stroke="#1a1a1a" stroke-width="1.3" />
<line x1="439" y1="208.6" x2="441.3" y2="208.6" stroke="#1a1a1a" stroke-width="1.3" />
<line x1="633.5" y1="208.6" x2="631.2" y2="208.6" stroke="#1a1a1a" stroke-width="1.3" />
<line x1="439" y1="194.5" x2="442.0" y2="194.5" stroke="#1a1a1a" stroke-width="1.3" />
<line x1="633.5" y1="194.5" x2="630.5" y2="194.5" stroke="#1a1a1a" stroke-width="1.3" />
<line x1="439" y1="180.39999999999998" x2="441.3" y2="180.39999999999998" stroke="#1a1a1a" stroke-width="1.3" />
<line x1="633.5" y1="180.39999999999998" x2="631.2" y2="180.39999999999998" stroke="#1a1a1a" stroke-width="1.3" />
<line x1="439" y1="166.29999999999998" x2="442.0" y2="166.29999999999998" stroke="#1a1a1a" stroke-width="1.3" />
<line x1="633.5" y1="166.29999999999998" x2="630.5" y2="166.29999999999998" stroke="#1a1a1a" stroke-width="1.3" />
<line x1="439" y1="152.2" x2="441.3" y2="152.2" stroke="#1a1a1a" stroke-width="1.3" />
<line x1="633.5" y1="152.2" x2="631.2" y2="152.2" stroke="#1a1a1a" stroke-width="1.3" />
<line x1="439" y1="138.1" x2="442.0" y2="138.1" stroke="#1a1a1a" stroke-width="1.3" />
<line x1="633.5" y1="138.1" x2="630.5" y2="138.1" stroke="#1a1a1a" stroke-width="1.3" />
<text transform="translate(435.8,67.7) scale(1.05,1)" font-size="12" fill="#333333" text-anchor="end" >2.1</text>
<text transform="translate(435.8,105.9) scale(1.05,1)" font-size="12" fill="#333333" text-anchor="end" >1.4</text>
<text transform="translate(435.8,170.7) scale(1.05,1)" font-size="12" fill="#333333" text-anchor="end" >0.4</text>
<text transform="translate(435.8,198.7) scale(1.05,1)" font-size="12" fill="#333333" text-anchor="end" >0.2</text>
<text transform="translate(435.8,226.89999999999998) scale(1.05,1)" font-size="12" fill="#333333" text-anchor="end" >0.0</text>
<text transform="translate(457.0,244) scale(1.06,1)" font-size="12" fill="#333333" text-anchor="middle" >6</text>
<text transform="translate(497.7,244) scale(1.06,1)" font-size="12" fill="#333333" text-anchor="middle" >7</text>
<text transform="translate(538.4,244) scale(1.06,1)" font-size="12" fill="#333333" text-anchor="middle" >8</text>
<text transform="translate(579.1,244) scale(1.06,1)" font-size="12" fill="#333333" text-anchor="middle" >9</text>
<text transform="translate(619.8,244) scale(1.06,1)" font-size="12" fill="#333333" text-anchor="middle" >10</text>
<text transform="translate(543.2,258) scale(1.03,1)" font-size="13.4" fill="#333333" text-anchor="middle"><tspan font-style="italic">L</tspan><tspan font-style="italic" font-size="8.5" dy="3">g</tspan><tspan dy="-3"> (nm)</tspan></text>
<text transform="translate(416.2,129.5) rotate(-90) scale(1,1.04)" font-size="13.9" fill="#333333" text-anchor="middle"><tspan font-style="italic">I</tspan><tspan font-size="8.5" dy="2.5">on</tspan><tspan dy="-2.5"> (mA/&#956;m)</tspan></text>
<text transform="translate(401.3,23.6) scale(1.04,1)" font-size="15.2" fill="#111" text-anchor="start" font-weight="bold">(c)</text>
<text x="446" y="40.8" font-size="20" fill="#000" text-anchor="start" font-weight="bold" font-style="italic">HP</text>
<text transform="translate(443.2,157.6) scale(0.84,1)" font-size="21.5" fill="#000" text-anchor="start" font-weight="bold" font-style="italic">LSTP</text>
<path d="M453.5,52.5 L503,58.5 L540,62.5 L575,66 L608,69.8" fill="none" stroke="#000" stroke-width="2.8" stroke-dasharray="5.2,4.2"/>
<line x1="456.09" y1="72.39" x2="473.91" y2="67.31" stroke="#ff0000" stroke-width="1.55"/>
<line x1="484.68" y1="65.34" x2="506.02" y2="63.56" stroke="#ff0000" stroke-width="1.55"/>
<line x1="516.97" y1="63.70" x2="534.43" y2="65.60" stroke="#ff0000" stroke-width="1.55"/>
<line x1="545.40" y1="65.98" x2="567.60" y2="65.12" stroke="#ff0000" stroke-width="1.55"/>
<line x1="578.52" y1="63.96" x2="600.38" y2="60.14" stroke="#ff0000" stroke-width="1.55"/>
<circle cx="450.8" cy="73.9" r="4.1" fill="#ff0000"/>
<circle cx="479.2" cy="65.8" r="4.1" fill="#ff0000"/>
<circle cx="511.5" cy="63.1" r="4.1" fill="#ff0000"/>
<circle cx="539.9" cy="66.2" r="4.1" fill="#ff0000"/>
<circle cx="573.1" cy="64.9" r="4.1" fill="#ff0000"/>
<circle cx="605.8" cy="59.2" r="4.1" fill="#ff0000"/>
<line x1="455.85" y1="58.23" x2="474.15" y2="50.37" stroke="#008000" stroke-width="1.55"/>
<line x1="484.60" y1="47.13" x2="506.10" y2="42.87" stroke="#008000" stroke-width="1.55"/>
<line x1="516.91" y1="40.79" x2="534.49" y2="37.51" stroke="#008000" stroke-width="1.55"/>
<line x1="545.37" y1="35.96" x2="567.63" y2="33.74" stroke="#008000" stroke-width="1.55"/>
<line x1="578.49" y1="32.11" x2="600.41" y2="27.69" stroke="#008000" stroke-width="1.55"/>
<polygon points="445.8,64.65 455.8,64.65 450.8,56.15" fill="#008000"/>
<polygon points="474.2,52.45 484.2,52.45 479.2,43.95" fill="#008000"/>
<polygon points="506.5,46.05 516.5,46.05 511.5,37.55" fill="#008000"/>
<polygon points="534.9,40.75 544.9,40.75 539.9,32.25" fill="#008000"/>
<polygon points="568.1,37.45 578.1,37.45 573.1,28.950000000000003" fill="#008000"/>
<polygon points="600.8,30.85 610.8,30.85 605.8,22.35" fill="#008000"/>
<line x1="455.26" y1="86.78" x2="474.74" y2="72.72" stroke="#0000ff" stroke-width="1.55"/>
<line x1="484.19" y1="67.20" x2="506.51" y2="56.90" stroke="#0000ff" stroke-width="1.55"/>
<line x1="516.91" y1="53.63" x2="534.49" y2="50.47" stroke="#0000ff" stroke-width="1.55"/>
<line x1="545.26" y1="48.26" x2="567.74" y2="43.04" stroke="#0000ff" stroke-width="1.55"/>
<line x1="578.25" y1="39.86" x2="600.65" y2="31.44" stroke="#0000ff" stroke-width="1.55"/>
<polygon points="450.8,85.1 455.7,90 450.8,94.9 445.90000000000003,90" fill="#0000ff"/>
<polygon points="479.2,64.6 484.09999999999997,69.5 479.2,74.4 474.3,69.5" fill="#0000ff"/>
<polygon points="511.5,49.7 516.4,54.6 511.5,59.5 506.6,54.6" fill="#0000ff"/>
<polygon points="539.9,44.6 544.8,49.5 539.9,54.4 535.0,49.5" fill="#0000ff"/>
<polygon points="573.1,36.9 578.0,41.8 573.1,46.699999999999996 568.2,41.8" fill="#0000ff"/>
<polygon points="605.8,24.6 610.6999999999999,29.5 605.8,34.4 600.9,29.5" fill="#0000ff"/>
<line x1="456.16" y1="122.26" x2="473.84" y2="118.14" stroke="#800080" stroke-width="1.55"/>
<line x1="484.59" y1="115.78" x2="506.11" y2="111.32" stroke="#800080" stroke-width="1.55"/>
<line x1="516.79" y1="111.69" x2="534.61" y2="116.71" stroke="#800080" stroke-width="1.55"/>
<line x1="545.39" y1="117.84" x2="567.61" y2="116.36" stroke="#800080" stroke-width="1.55"/>
<line x1="578.57" y1="115.41" x2="600.33" y2="113.09" stroke="#800080" stroke-width="1.55"/>
<circle cx="450.8" cy="123.5" r="4.4" fill="url(#sph)"/>
<circle cx="479.2" cy="116.9" r="4.4" fill="url(#sph)"/>
<circle cx="511.5" cy="110.2" r="4.4" fill="url(#sph)"/>
<circle cx="539.9" cy="118.2" r="4.4" fill="url(#sph)"/>
<circle cx="573.1" cy="116" r="4.4" fill="url(#sph)"/>
<circle cx="605.8" cy="112.5" r="4.4" fill="url(#sph)"/>
<text transform="translate(495,40.6) rotate(-13)" font-size="14" fill="#008000">2L</text>
<text transform="translate(553,59.5) rotate(-15) skewX(-5)" font-size="14" fill="#0000ff">3L</text>
<text transform="translate(583.3,60.6) rotate(-14)" font-size="14" fill="#ff0000">1L</text>
<text transform="translate(580.6,82) rotate(4.5)" font-size="13.6" fill="#111" font-style="italic">ITRS</text>
<text transform="translate(558.6,108.6) rotate(-5)" font-size="13.8" fill="#800080">Si UTB</text>
<path d="M450.5,182.8 C480,172 510,163 545,153.6 S 600,143 627,141.2" fill="none" stroke="#000" stroke-width="2.8" stroke-dasharray="5.2,4.2"/>
<line x1="456.04" y1="195.12" x2="473.96" y2="189.38" stroke="#ff0000" stroke-width="1.55"/>
<line x1="484.24" y1="185.49" x2="506.76" y2="175.61" stroke="#ff0000" stroke-width="1.55"/>
<line x1="517.09" y1="171.90" x2="539.01" y2="165.70" stroke="#ff0000" stroke-width="1.55"/>
<line x1="549.74" y1="163.40" x2="579.76" y2="159.00" stroke="#ff0000" stroke-width="1.55"/>
<line x1="590.50" y1="156.73" x2="620.90" y2="148.27" stroke="#ff0000" stroke-width="1.55"/>
<circle cx="450.8" cy="196.8" r="4.1" fill="#ff0000"/>
<circle cx="479.2" cy="187.7" r="4.1" fill="#ff0000"/>
<circle cx="511.8" cy="173.4" r="4.1" fill="#ff0000"/>
<circle cx="544.3" cy="164.2" r="4.1" fill="#ff0000"/>
<circle cx="585.2" cy="158.2" r="4.1" fill="#ff0000"/>
<circle cx="626.2" cy="146.8" r="4.1" fill="#ff0000"/>
<line x1="456.25" y1="220.29" x2="473.75" y2="218.01" stroke="#0000ff" stroke-width="1.55"/>
<line x1="484.56" y1="216.05" x2="506.44" y2="210.95" stroke="#0000ff" stroke-width="1.55"/>
<line x1="516.83" y1="207.48" x2="539.27" y2="197.62" stroke="#0000ff" stroke-width="1.55"/>
<line x1="549.57" y1="193.84" x2="579.93" y2="184.86" stroke="#0000ff" stroke-width="1.55"/>
<line x1="590.26" y1="181.15" x2="621.14" y2="168.05" stroke="#0000ff" stroke-width="1.55"/>
<polygon points="450.8,216.1 455.7,221 450.8,225.9 445.90000000000003,221" fill="#0000ff"/>
<polygon points="479.2,212.4 484.09999999999997,217.3 479.2,222.20000000000002 474.3,217.3" fill="#0000ff"/>
<polygon points="511.8,204.79999999999998 516.7,209.7 511.8,214.6 506.90000000000003,209.7" fill="#0000ff"/>
<polygon points="544.3,190.5 549.1999999999999,195.4 544.3,200.3 539.4,195.4" fill="#0000ff"/>
<polygon points="585.2,178.4 590.1,183.3 585.2,188.20000000000002 580.3000000000001,183.3" fill="#0000ff"/>
<polygon points="626.2,161.0 631.1,165.9 626.2,170.8 621.3000000000001,165.9" fill="#0000ff"/>
<line x1="456.20" y1="213.44" x2="473.80" y2="209.96" stroke="#008000" stroke-width="1.55"/>
<line x1="484.11" y1="206.42" x2="506.89" y2="194.88" stroke="#008000" stroke-width="1.55"/>
<line x1="516.67" y1="189.85" x2="539.43" y2="177.95" stroke="#008000" stroke-width="1.55"/>
<line x1="549.42" y1="173.39" x2="580.08" y2="161.31" stroke="#008000" stroke-width="1.55"/>
<line x1="590.44" y1="157.63" x2="620.96" y2="147.87" stroke="#008000" stroke-width="1.55"/>
<polygon points="445.8,218.75 455.8,218.75 450.8,210.25" fill="#008000"/>
<polygon points="474.2,213.15 484.2,213.15 479.2,204.65" fill="#008000"/>
<polygon points="506.8,196.65 516.8,196.65 511.8,188.15" fill="#008000"/>
<polygon points="539.3,179.65 549.3,179.65 544.3,171.15" fill="#008000"/>
<polygon points="580.2,163.55 590.2,163.55 585.2,155.05" fill="#008000"/>
<polygon points="621.2,150.45 631.2,150.45 626.2,141.95" fill="#008000"/>
<line x1="456.30" y1="223.10" x2="473.70" y2="223.10" stroke="#800080" stroke-width="1.55"/>
<line x1="484.70" y1="223.08" x2="506.30" y2="223.02" stroke="#800080" stroke-width="1.55"/>
<line x1="517.30" y1="222.97" x2="538.80" y2="222.83" stroke="#800080" stroke-width="1.55"/>
<line x1="549.80" y1="222.79" x2="579.70" y2="222.71" stroke="#800080" stroke-width="1.55"/>
<line x1="590.70" y1="222.62" x2="620.70" y2="222.18" stroke="#800080" stroke-width="1.55"/>
<circle cx="450.8" cy="223.1" r="4.4" fill="url(#sph)"/>
<circle cx="479.2" cy="223.1" r="4.4" fill="url(#sph)"/>
<circle cx="511.8" cy="223" r="4.4" fill="url(#sph)"/>
<circle cx="544.3" cy="222.8" r="4.4" fill="url(#sph)"/>
<circle cx="585.2" cy="222.7" r="4.4" fill="url(#sph)"/>
<circle cx="626.2" cy="222.1" r="4.4" fill="url(#sph)"/>
</svg></body></html>
